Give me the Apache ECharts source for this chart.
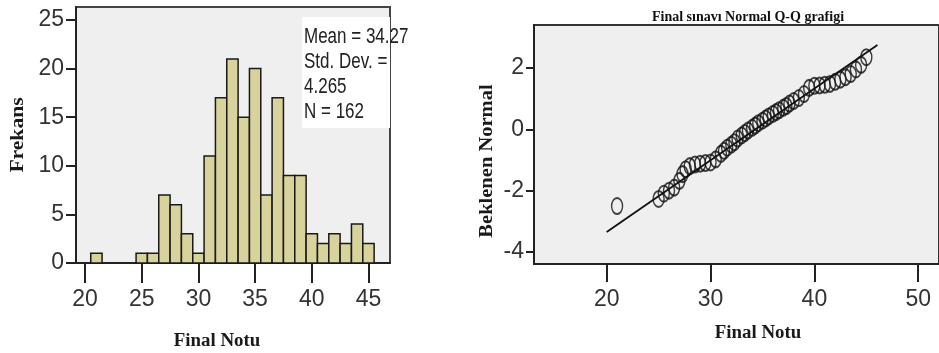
<!DOCTYPE html>
<html>
<head>
<meta charset="utf-8">
<title>Final Notu</title>
<script src="https://cdn.jsdelivr.net/npm/echarts@6/dist/echarts.min.js"></script>
<style>
  html, body { margin: 0; padding: 0; background: #fff; }
  #chart { width: 939px; height: 353px; }
</style>
</head>
<body>
<div id="chart"></div>
<script>
// histogram (Frekans per Final Notu)
var histX = [21, 25, 26, 27, 28, 29, 30, 31, 32, 33, 34, 35, 36, 37, 38, 39, 40, 41, 42, 43, 44, 45];
var histY = [1, 1, 1, 7, 6, 3, 1, 11, 17, 21, 15, 20, 7, 17, 9, 9, 3, 2, 3, 2, 4, 2];
var histXTicks = [20, 25, 30, 35, 40, 45];
var histYTicks = [0, 5, 10, 15, 20, 25];
var statLines = ['Mean = 34.27', 'Std. Dev. =', '4.265', 'N = 162'];

// Q-Q plot
var qqX = [21, 25, 25.5, 26, 26.5, 27, 27.3, 27.6, 28, 28.5, 29, 29.5, 30, 30.5, 31, 31.3, 31.6, 32, 32.3, 32.6,
  33, 33.3, 33.6, 34, 34.3, 34.6, 35, 35.3, 35.6, 36, 36.3, 36.6, 37, 37.3, 37.6, 38, 38.5, 39, 39.5, 40,
  40.5, 41, 41.5, 42, 42.5, 43, 43.5, 44, 44.5, 45];
var qqY = [-2.5, -2.27, -2.1, -2.0, -1.9, -1.68, -1.46, -1.3, -1.2, -1.15, -1.12, -1.1, -1.08, -0.98, -0.8, -0.7, -0.6, -0.5, -0.42, -0.3,
  -0.2, -0.12, -0.04, 0.05, 0.12, 0.2, 0.28, 0.35, 0.42, 0.5, 0.56, 0.62, 0.7, 0.76, 0.84, 0.92, 1.02, 1.15, 1.35, 1.42,
  1.43, 1.45, 1.48, 1.55, 1.62, 1.7, 1.8, 1.95, 2.1, 2.35];
var qqLine = [[20, -3.35], [46.07, 2.75]];
var qqXTicks = [20, 30, 40, 50];
var qqYTicks = [-4, -2, 0, 2];

var tickFont = '"Liberation Sans Narrow", "Liberation Sans", sans-serif';
var nameFont = '"Liberation Serif", "DejaVu Serif", serif';

var chart = echarts.init(document.getElementById('chart'));

function valueAxis(gridIndex, min, max, ticks, tickLen, margin) {
  return {
    type: 'value',
    gridIndex: gridIndex,
    min: min,
    max: max,
    splitLine: { show: false },
    axisLine: { show: true, onZero: false, lineStyle: { color: '#222', width: 2 } },
    axisTick: { show: true, customValues: ticks, length: tickLen, lineStyle: { color: '#222', width: 2 } },
    axisLabel: {
      customValues: ticks,
      margin: margin,
      color: '#333',
      fontFamily: tickFont,
      fontSize: 23
    }
  };
}

// axis titles placed as text so they sit where the reference has them
function nameText(text, x, y, rotate, stretch) {
  return {
    type: 'text', z: 100, x: x, y: y,
    rotation: rotate ? Math.PI / 2 : 0,
    scaleX: stretch,
    style: {
      text: text,
      font: 'bold 18px ' + nameFont,
      fill: '#1a1a1a',
      align: 'center',
      verticalAlign: 'middle'
    }
  };
}

var option = {
  animation: false,
  backgroundColor: '#fff',
  title: {
    text: 'Final sınavı Normal Q-Q grafigi',
    left: 743,
    top: 5,
    textAlign: 'center',
    textStyle: { fontFamily: nameFont, fontWeight: 'bold', fontSize: 14, color: '#111' }
  },
  grid: [
    { left: 76, top: 7, width: 314, height: 256, show: true, backgroundColor: '#efefef', borderColor: '#444', borderWidth: 2 },
    { left: 534, top: 25, width: 411, height: 239, show: true, backgroundColor: '#efefef', borderColor: '#333', borderWidth: 2 }
  ],
  xAxis: [
    valueAxis(0, 19.2, 46.9, histXTicks, 20, 25),
    valueAxis(1, 13, 52, qqXTicks, 18, 24)
  ],
  yAxis: [
    valueAxis(0, 0, 26.34, histYTicks, 10, 12),
    valueAxis(1, -4.39, 3.4, qqYTicks, 8, 10)
  ],
  graphic: [
    {
      type: 'rect', z: 100,
      shape: { x: 302, y: 17, width: 88, height: 111 },
      style: { fill: '#fff' }
    },
    {
      type: 'text', z: 101, x: 304, y: 24, scaleY: 1.35,
      style: {
        text: statLines.join('\n'),
        font: '17px ' + tickFont,
        lineHeight: 18.5,
        fill: '#222'
      }
    },
    nameText('Frekans', 18, 135, true, 1.2),
    nameText('Final Notu', 217, 341, false, 1.05),
    nameText('Beklenen Normal', 487, 161, true, 1.14),
    nameText('Final Notu', 758, 333, false, 1.05)
  ],
  series: [
    {
      type: 'custom',
      xAxisIndex: 0,
      yAxisIndex: 0,
      data: histX.map(function (x, i) { return [x, histY[i]]; }),
      renderItem: function (params, api) {
        var x = api.value(0);
        var y = api.value(1);
        var p1 = api.coord([x - 0.5, y]);
        var p2 = api.coord([x + 0.5, 0]);
        return {
          type: 'rect',
          shape: { x: p1[0], y: p1[1], width: p2[0] - p1[0], height: p2[1] - p1[1] },
          style: { fill: '#d8d39c', stroke: '#1a1a1a', lineWidth: 1.5 }
        };
      }
    },
    {
      type: 'line',
      xAxisIndex: 1,
      yAxisIndex: 1,
      data: qqLine,
      symbol: 'none',
      z: 2,
      lineStyle: { color: '#111', width: 1.8 }
    },
    {
      type: 'scatter',
      xAxisIndex: 1,
      yAxisIndex: 1,
      data: qqX.map(function (x, i) { return [x, qqY[i]]; }),
      symbol: 'circle',
      symbolSize: [11, 16],
      z: 3,
      itemStyle: { color: 'rgba(0,0,0,0)', borderColor: '#111', borderWidth: 1.7 }
    }
  ]
};

chart.setOption(option);
</script>
</body>
</html>
